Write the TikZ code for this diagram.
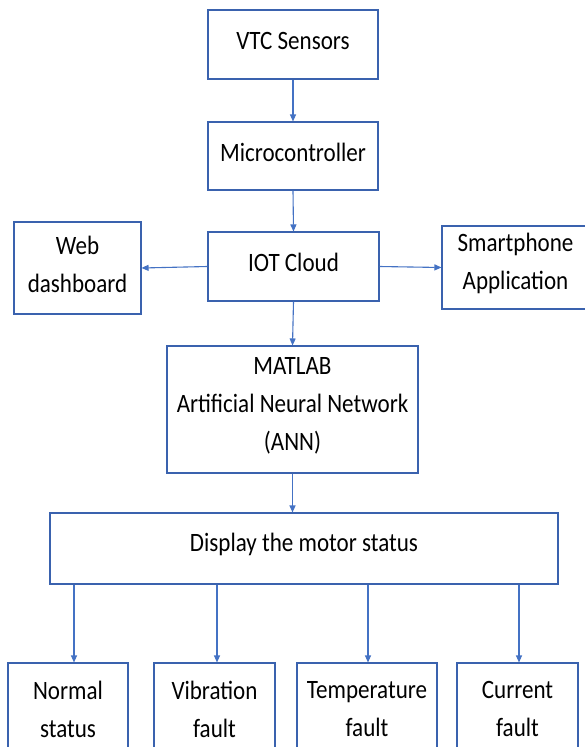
\documentclass[tikz,border=0pt]{standalone}
\usepackage{fontspec}
\setmainfont{Carlito}[FakeStretch=0.87]
\usetikzlibrary{arrows.meta}
\definecolor{boxblue}{HTML}{3A62AE}
\definecolor{arrowblue}{HTML}{4472C4}
\begin{document}
\begin{tikzpicture}[x=1pt,y=-1pt,
  blk/.style={draw=boxblue, line width=1.1pt, rectangle, inner sep=0pt},
  txt/.style={align=center, inner sep=0pt, yshift=4pt, font=\fontsize{26.5}{38}\selectfont},
  conn/.style={draw=arrowblue, line width=1.1pt, -{Triangle[length=7pt,width=6pt]}}]
\useasboundingbox (0,0) rectangle (585,747);
\clip (0,0) rectangle (585,747);
\fill[white] (0,0) rectangle (585,747);
\node[blk, minimum width=170pt, minimum height=69pt, label={[txt]center:VTC Sensors}] (vtc) at (293,44.5) {};
\node[blk, minimum width=170pt, minimum height=68pt, label={[txt]center:Microcontroller}] (micro) at (293,156) {};
\node[blk, minimum width=171pt, minimum height=69pt, label={[txt]center:IOT Cloud}] (iot) at (293.5,266.5) {};
\node[blk, minimum width=127pt, minimum height=92pt, label={[txt]center:Web\\dashboard}] (web) at (77.5,268) {};
\node[blk, minimum width=147pt, minimum height=83pt, label={[txt]center:Smartphone\\Application}] (smart) at (515.5,267.5) {};
\node[blk, minimum width=251pt, minimum height=127pt, label={[txt]center:MATLAB\\Artificial Neural Network\\(ANN)}] (ann) at (292.5,409.5) {};
\node[blk, minimum width=508pt, minimum height=71pt, label={[txt]center:Display the motor status}] (disp) at (304,548.5) {};
\node[blk, minimum width=120pt, minimum height=100pt, label={[txt]center:Normal\\status}] (normal) at (68,713) {};
\node[blk, minimum width=121pt, minimum height=100pt, label={[txt]center:Vibration\\fault}] (vib) at (214.5,713) {};
\node[blk, minimum width=140pt, minimum height=100pt, label={[txt]center:Temperature\\fault}] (temp) at (367,713) {};
\node[blk, minimum width=121pt, minimum height=100pt, label={[txt]center:Current\\fault}] (cur) at (517.5,713) {};
\draw[conn] (vtc.south) -- (micro.north);
\draw[conn] (micro.south) -- (iot.north);
\draw[conn] (iot.west) -- (web.east);
\draw[conn] (iot.east) -- (smart.west);
\draw[conn] (iot.south) -- (ann.north);
\draw[conn] (ann.south) -- (ann.south |- disp.north);
\draw[conn] ([xshift=6pt]normal.north |- disp.south) -- ([xshift=6pt]normal.north);
\draw[conn] ([xshift=2.5pt]vib.north |- disp.south) -- ([xshift=2.5pt]vib.north);
\draw[conn] ([xshift=1pt]temp.north |- disp.south) -- ([xshift=1pt]temp.north);
\draw[conn] ([xshift=1.5pt]cur.north |- disp.south) -- ([xshift=1.5pt]cur.north);
\end{tikzpicture}
\end{document}
